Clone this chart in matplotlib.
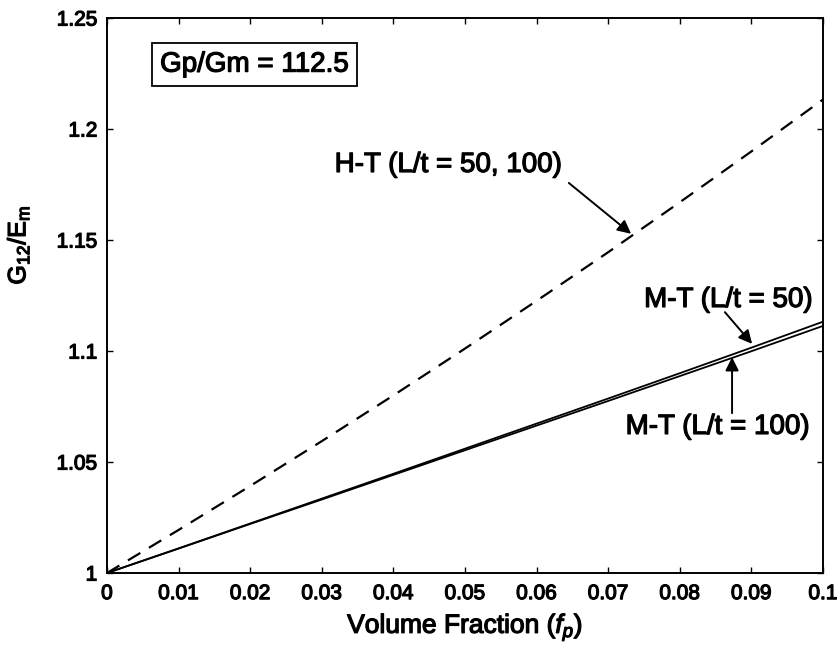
import matplotlib
matplotlib.use("Agg")
import matplotlib.pyplot as plt
import matplotlib.patheffects as pe

plt.rcParams['font.family'] = ['Liberation Sans', 'DejaVu Sans']
plt.rcParams['mathtext.fontset'] = 'custom'
plt.rcParams['mathtext.rm'] = 'Liberation Sans'
plt.rcParams['mathtext.it'] = 'Liberation Sans:italic'

# Data
volume_fraction = [0.0, 0.01, 0.02, 0.03, 0.04, 0.05, 0.06, 0.07, 0.08, 0.09, 0.1]
ht_values = [1.0, 1.0194, 1.0392, 1.0594, 1.0800, 1.1011, 1.1226, 1.1445, 1.1670, 1.1899, 1.2133]
mt50_values = [1.0, 1.0111, 1.0223, 1.0335, 1.0447, 1.0560, 1.0673, 1.0786, 1.0900, 1.1015, 1.1132]
mt100_values = [1.0, 1.0110, 1.0221, 1.0331, 1.0442, 1.0553, 1.0664, 1.0775, 1.0887, 1.0999, 1.1113]
x_ticks = [0, 0.01, 0.02, 0.03, 0.04, 0.05, 0.06, 0.07, 0.08, 0.09, 0.1]
x_tick_labels = ['0', '0.01', '0.02', '0.03', '0.04', '0.05', '0.06', '0.07', '0.08', '0.09', '0.1']
y_ticks = [1.0, 1.05, 1.1, 1.15, 1.2, 1.25]
y_tick_labels = ['1', '1.05', '1.1', '1.15', '1.2', '1.25']

thick = [pe.withStroke(linewidth=0.9, foreground='black')]

fig = plt.figure(figsize=(8.38, 6.46), dpi=100)
ax = fig.add_axes([107/838, 1-573/646, (823-107)/838, (573-18)/646])

ax.plot(volume_fraction, ht_values, color='black', lw=1.6, linestyle=(0, (6.5, 4.5)))
ax.plot(volume_fraction, mt50_values, color='black', lw=1.3)
ax.plot(volume_fraction, mt100_values, color='black', lw=1.3)

ax.set_xlim(0, 0.1)
ax.set_ylim(1.0, 1.25)
ax.set_xticks(x_ticks)
ax.set_xticklabels(x_tick_labels)
ax.set_yticks(y_ticks)
ax.set_yticklabels(y_tick_labels)
ax.tick_params(direction='in', top=True, right=True, length=4.5, width=1.0,
               labelsize=15)
ax.tick_params(axis='x', pad=8)
ax.tick_params(axis='y', pad=7)
for lab in ax.get_xticklabels() + ax.get_yticklabels():
    lab.set_path_effects(thick)
for s in ax.spines.values():
    s.set_linewidth(1.4)

xl = ax.set_xlabel(r'Volume Fraction ($\mathit{f_p}$)', fontsize=19, labelpad=6)
xl.set_path_effects(thick)
fig.text(18/838, 1-245/646, r'G$_{\mathrm{12}}$/E$_{\mathrm{m}}$', rotation=90,
         fontsize=18, ha='center', va='center', path_effects=thick)

ax.text(0.0206, 1.229, 'Gp/Gm = 112.5', fontsize=20, ha='center', va='center',
        path_effects=thick,
        bbox=dict(boxstyle='square,pad=0.3', facecolor='white', edgecolor='black', lw=1.3))

arrow = dict(arrowstyle='-|>', color='black', lw=1.4, mutation_scale=20,
             shrinkA=0, shrinkB=0)
ax.text(0.0477, 1.1838, 'H-T (L/t = 50, 100)', fontsize=20, ha='center', va='center',
        path_effects=thick)
ax.annotate('', xy=(0.0732, 1.1528), xytext=(0.0645, 1.1757), arrowprops=arrow)

ax.text(0.0868, 1.123, 'M-T (L/t = 50)', fontsize=20, ha='center', va='center',
        path_effects=thick)
ax.annotate('', xy=(0.0901, 1.1032), xytext=(0.0863, 1.1175), arrowprops=arrow)

ax.text(0.0853, 1.0658, 'M-T (L/t = 100)', fontsize=20, ha='center', va='center',
        path_effects=thick)
ax.annotate('', xy=(0.0873, 1.0972), xytext=(0.0873, 1.072), arrowprops=arrow)

fig.savefig('out.png', dpi=100)
